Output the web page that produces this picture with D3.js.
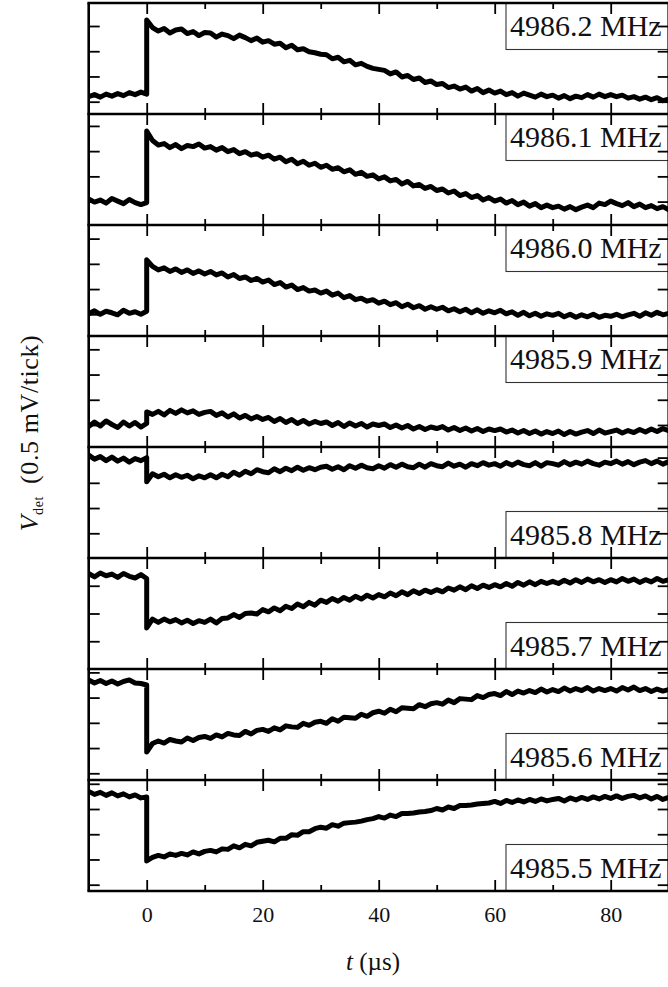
<!DOCTYPE html>
<html>
<head>
<meta charset="utf-8">
<script src="https://cdn.jsdelivr.net/npm/d3@7"></script>
<style>
  html, body { margin: 0; padding: 0; background: #fff; }
  svg { display: block; }
</style>
</head>
<body>
<svg id="chart" width="668" height="987"></svg>
<script>
// Sample times in microseconds; t = 0 appears twice (before and after the switch).
const timesUs = [-10,-9,-8,-7,-6,-5,-4,-3,-2,-1,0,0,
  1,2,3,4,5,6,7,8,9,10,11,12,13,14,15,16,17,18,19,20,
  21,22,23,24,25,26,27,28,29,30,31,32,33,34,35,36,37,38,39,40,
  41,42,43,44,45,46,47,48,49,50,51,52,53,54,55,56,57,58,59,60,
  61,62,63,64,65,66,67,68,69,70,71,72,73,74,75,76,77,78,79,80,
  81,82,83,84,85,86,87,88,89,90];

// Detector voltage traces (mV, offset per panel)
const vdet_4986_2 = [0.10,0.14,0.09,0.15,0.11,0.16,0.12,0.18,0.14,0.19,0.15, 1.62,
  1.47,1.40,1.45,1.36,1.42,1.44,1.35,1.39,1.31,1.37,
  1.36,1.28,1.34,1.31,1.25,1.32,1.27,1.21,1.26,1.18,
  1.21,1.14,1.16,1.07,1.12,1.03,1.05,0.99,0.97,0.94,
  0.93,0.85,0.88,0.79,0.82,0.73,0.76,0.70,0.66,0.64,
  0.62,0.55,0.59,0.49,0.52,0.44,0.47,0.38,0.41,0.34,
  0.36,0.28,0.31,0.25,0.29,0.21,0.26,0.18,0.23,0.17,
  0.21,0.14,0.18,0.11,0.17,0.13,0.09,0.15,0.10,0.13,
  0.07,0.12,0.06,0.11,0.08,0.14,0.09,0.15,0.10,0.14,
  0.10,0.13,0.07,0.10,0.05,0.09,0.04,0.08,0.02,0.05];
const vdet_4986_1 = [0.05,-0.01,0.03,-0.03,0.06,0.01,-0.04,0.04,-0.02,-0.06,-0.02, 1.40,
  1.21,1.12,1.15,1.07,1.13,1.05,1.11,1.09,1.14,1.06,
  1.09,1.02,1.07,0.99,1.03,0.95,0.99,0.92,0.95,0.88,
  0.92,0.84,0.88,0.79,0.84,0.75,0.80,0.72,0.76,0.68,
  0.72,0.64,0.67,0.59,0.63,0.54,0.58,0.50,0.53,0.45,
  0.49,0.41,0.44,0.35,0.40,0.31,0.34,0.26,0.30,0.22,
  0.25,0.17,0.21,0.12,0.16,0.08,0.12,0.03,0.08,0.01,
  0.05,-0.03,0.02,-0.06,-0.01,-0.09,-0.04,-0.12,-0.07,-0.12,
  -0.09,-0.15,-0.10,-0.16,-0.11,-0.07,-0.12,-0.03,-0.06,0.01,
  -0.04,-0.08,-0.02,-0.10,-0.05,-0.12,-0.08,-0.14,-0.10,-0.16];
const vdet_4986_0 = [0.01,0.07,0.00,0.06,0.03,-0.01,0.08,0.02,0.05,0.00,0.06, 1.08,
  0.95,0.88,0.92,0.85,0.90,0.83,0.88,0.81,0.86,0.80,
  0.85,0.78,0.82,0.74,0.79,0.71,0.74,0.67,0.71,0.64,
  0.68,0.59,0.63,0.54,0.58,0.49,0.53,0.46,0.48,0.42,
  0.46,0.38,0.42,0.33,0.37,0.29,0.32,0.26,0.29,0.22,
  0.26,0.19,0.23,0.15,0.20,0.13,0.17,0.10,0.15,0.10,
  0.14,0.07,0.11,0.05,0.10,0.03,0.09,0.02,0.07,0.03,
  0.08,0.01,0.05,-0.02,0.04,-0.03,0.02,-0.04,0.01,-0.02,
  0.02,-0.05,0.00,-0.06,-0.01,-0.05,0.00,-0.06,-0.02,-0.04,
  0.00,-0.05,-0.01,0.02,-0.04,0.03,-0.02,0.04,-0.01,0.02];
const vdet_4985_9 = [-0.03,0.06,-0.02,0.08,0.01,-0.05,0.06,-0.02,0.05,-0.04,0.03, 0.26,
  0.21,0.27,0.20,0.29,0.23,0.30,0.24,0.28,0.21,0.25,
  0.27,0.19,0.24,0.16,0.22,0.14,0.19,0.12,0.17,0.11,
  0.15,0.07,0.13,0.05,0.11,0.03,0.09,0.02,0.07,0.03,
  0.06,-0.01,0.05,-0.03,0.04,-0.02,0.03,-0.04,0.02,-0.01,
  0.02,-0.05,0.00,-0.06,-0.01,-0.08,-0.03,-0.09,-0.04,-0.07,
  -0.03,-0.10,-0.05,-0.11,-0.06,-0.12,-0.07,-0.13,-0.08,-0.11,
  -0.08,-0.14,-0.10,-0.16,-0.11,-0.17,-0.12,-0.18,-0.13,-0.17,
  -0.12,-0.19,-0.13,-0.18,-0.14,-0.11,-0.17,-0.10,-0.16,-0.13,
  -0.10,-0.16,-0.11,-0.15,-0.09,-0.14,-0.08,-0.13,-0.07,-0.11];
const vdet_4985_8 = [1.55,1.47,1.52,1.44,1.51,1.43,1.49,1.41,1.48,1.44,1.50, 1.02,
  1.18,1.12,1.17,1.10,1.16,1.11,1.15,1.08,1.14,1.10,
  1.16,1.10,1.17,1.12,1.21,1.15,1.23,1.18,1.26,1.22,
  1.20,1.28,1.22,1.29,1.24,1.31,1.25,1.30,1.26,1.31,
  1.33,1.27,1.32,1.26,1.34,1.29,1.35,1.30,1.28,1.34,
  1.29,1.36,1.31,1.37,1.32,1.30,1.37,1.31,1.38,1.34,
  1.32,1.39,1.33,1.37,1.31,1.38,1.34,1.40,1.35,1.38,
  1.33,1.40,1.35,1.41,1.36,1.34,1.40,1.33,1.40,1.38,
  1.35,1.42,1.36,1.41,1.37,1.43,1.38,1.35,1.41,1.38,
  1.43,1.37,1.42,1.36,1.41,1.44,1.38,1.43,1.37,1.42];
const vdet_4985_7 = [1.72,1.66,1.73,1.68,1.71,1.65,1.72,1.67,1.64,1.70,1.63, 0.74,
  0.90,0.84,0.90,0.85,0.89,0.83,0.88,0.82,0.87,0.84,
  0.90,0.83,0.91,0.92,0.98,0.93,1.00,1.01,0.99,1.07,
  1.03,1.10,1.05,1.13,1.09,1.17,1.12,1.20,1.15,1.24,
  1.20,1.27,1.22,1.29,1.24,1.31,1.26,1.33,1.28,1.34,
  1.30,1.37,1.32,1.39,1.34,1.41,1.36,1.42,1.38,1.43,
  1.39,1.46,1.42,1.48,1.43,1.50,1.45,1.51,1.47,1.52,
  1.48,1.54,1.49,1.56,1.51,1.57,1.52,1.58,1.54,1.58,
  1.54,1.60,1.55,1.61,1.56,1.62,1.57,1.61,1.56,1.61,
  1.57,1.63,1.58,1.62,1.56,1.61,1.57,1.63,1.58,1.61];
const vdet_4985_6 = [1.85,1.79,1.84,1.78,1.83,1.77,1.82,1.85,1.79,1.78,1.75, 0.42,
  0.59,0.64,0.60,0.67,0.64,0.62,0.70,0.65,0.71,0.73,
  0.69,0.76,0.72,0.79,0.76,0.75,0.83,0.78,0.85,0.87,
  0.83,0.90,0.86,0.94,0.92,0.91,0.99,0.95,1.01,1.03,
  0.99,1.08,1.03,1.11,1.10,1.09,1.17,1.13,1.20,1.23,
  1.19,1.27,1.22,1.30,1.29,1.28,1.36,1.32,1.38,1.40,
  1.37,1.45,1.40,1.48,1.47,1.46,1.54,1.50,1.56,1.58,
  1.54,1.62,1.56,1.63,1.59,1.64,1.60,1.67,1.61,1.66,
  1.62,1.69,1.63,1.68,1.64,1.70,1.63,1.68,1.64,1.68,
  1.63,1.70,1.65,1.71,1.64,1.68,1.62,1.67,1.63,1.66];
const vdet_4985_5 = [1.85,1.79,1.83,1.77,1.82,1.76,1.80,1.74,1.78,1.72,1.74, 0.47,
  0.54,0.58,0.55,0.61,0.58,0.62,0.59,0.65,0.61,0.66,
  0.68,0.65,0.71,0.70,0.77,0.73,0.80,0.77,0.84,0.86,
  0.88,0.85,0.92,0.92,0.99,0.98,1.05,1.05,1.11,1.14,
  1.12,1.19,1.16,1.22,1.23,1.24,1.26,1.29,1.31,1.35,
  1.32,1.38,1.35,1.41,1.41,1.42,1.44,1.45,1.47,1.51,
  1.48,1.54,1.51,1.57,1.57,1.58,1.60,1.61,1.62,1.65,
  1.61,1.67,1.63,1.68,1.64,1.69,1.65,1.70,1.66,1.69,
  1.71,1.66,1.72,1.68,1.73,1.69,1.74,1.70,1.75,1.71,
  1.76,1.71,1.75,1.77,1.72,1.76,1.70,1.75,1.69,1.73];

const frequencyLabels = ["4986.2 MHz","4986.1 MHz","4986.0 MHz","4985.9 MHz",
                         "4985.8 MHz","4985.7 MHz","4985.6 MHz","4985.5 MHz"];
const traces = [vdet_4986_2, vdet_4986_1, vdet_4986_0, vdet_4985_9,
                vdet_4985_8, vdet_4985_7, vdet_4985_6, vdet_4985_5];
// Vertical window of each panel (mV)
const panelLowMv  = [-0.244, -0.464, -0.430, -0.436, -0.490, 0.000, -0.133, -0.125];
const panelHighMv = [ 1.956,  1.736,  1.770,  1.764,  1.710, 2.000,  2.067,  2.075];
const yTickStepMv = 0.5;
const xDomainUs = [-10, 90];
const xMajorTicks = [0, 20, 40, 60, 80];
const xMinorTicks = [10, 30, 50, 70];

// ---- layout ----
const serif = "'Liberation Serif','Times New Roman','DejaVu Serif','Noto Serif',Times,serif";
const plotLeft = 88.7, plotRight = 668.7, plotTop = 3, panelH = 111;
const nPanels = traces.length;
const plotBottom = plotTop + nPanels * panelH;

const svg = d3.select("#chart");
const x = d3.scaleLinear().domain(xDomainUs).range([plotLeft, plotRight]);
const defs = svg.append("defs");

traces.forEach((vals, i) => {
  const y0 = plotTop + i * panelH, y1 = y0 + panelH;
  const y = d3.scaleLinear().domain([panelLowMv[i], panelHighMv[i]]).range([y1, y0]);
  const g = svg.append("g").attr("class", "panel");

  defs.append("clipPath").attr("id", "clip" + i)
    .append("rect").attr("x", plotLeft).attr("y", y0)
    .attr("width", plotRight - plotLeft).attr("height", panelH);

  const line = d3.line().x((d, j) => x(timesUs[j])).y(d => y(d));
  g.append("path").datum(vals)
    .attr("clip-path", `url(#clip${i})`)
    .attr("d", line)
    .attr("fill", "none").attr("stroke", "#000")
    .attr("stroke-width", 5)
    .attr("stroke-linejoin", "round").attr("stroke-linecap", "round");

  // frequency label box
  const boxH = 46.5, boxX = 506;
  const boxY = i < 4 ? y0 : y1 - boxH;
  g.append("rect").attr("x", boxX).attr("y", boxY)
    .attr("width", plotRight - boxX + 4).attr("height", boxH)
    .attr("fill", "#fff").attr("stroke", "#333").attr("stroke-width", 1.1);
  g.append("text").attr("x", boxX + 4).attr("y", boxY + 33)
    .attr("font-family", serif).attr("font-size", 30).attr("fill", "#111")
    .text(frequencyLabels[i]);

  // y ticks on both sides, every 0.5 mV
  const yt = d3.range(Math.ceil((panelLowMv[i] + 0.02) / yTickStepMv),
                      Math.floor((panelHighMv[i] - 0.02) / yTickStepMv) + 1)
               .map(k => k * yTickStepMv);
  const yAxL = d3.axisRight(y).tickValues(yt).tickSize(11).tickFormat("");
  const yAxR = d3.axisLeft(y).tickValues(yt).tickSize(11).tickFormat("");
  g.append("g").attr("transform", `translate(${plotLeft},0)`).call(yAxL);
  g.append("g").attr("transform", `translate(${plotRight},0)`).call(yAxR);

  // x ticks on top and bottom edges, pointing inward
  [[d3.axisBottom, y0], [d3.axisTop, y1]].forEach(([ax, yy]) => {
    g.append("g").attr("transform", `translate(0,${yy})`)
      .call(ax(x).tickValues(xMajorTicks).tickSize(11).tickFormat(""));
    g.append("g").attr("transform", `translate(0,${yy})`)
      .call(ax(x).tickValues(xMinorTicks).tickSize(6).tickFormat(""));
  });
});

svg.selectAll(".panel .domain").remove();
svg.selectAll(".panel .tick line").attr("stroke", "#000").attr("stroke-width", 1.8);

// panel frames
const frame = svg.append("g").attr("stroke", "#000").attr("stroke-width", 2.6);
d3.range(nPanels + 1).forEach(k => {
  const yy = plotTop + k * panelH;
  frame.append("line").attr("x1", plotLeft - 1.3).attr("x2", plotRight + 1.3)
    .attr("y1", yy).attr("y2", yy);
});
frame.append("line").attr("x1", plotLeft).attr("x2", plotLeft)
  .attr("y1", plotTop).attr("y2", plotBottom);
frame.append("line").attr("x1", plotRight).attr("x2", plotRight)
  .attr("y1", plotTop).attr("y2", plotBottom);

// x tick labels
const xLab = svg.append("g").attr("transform", `translate(0,${plotBottom})`)
  .call(d3.axisBottom(x).tickValues(xMajorTicks).tickSize(0).tickPadding(15)
        .tickFormat(d3.format("d")));
xLab.select(".domain").remove();
xLab.attr("font-family", serif).attr("font-size", 22);
xLab.selectAll("text").attr("fill", "#111");

// axis titles
const xt = svg.append("text").attr("x", 373).attr("y", 970)
  .attr("text-anchor", "middle").attr("font-family", serif).attr("font-size", 25)
  .attr("fill", "#111");
xt.append("tspan").attr("font-style", "italic").text("t");
xt.append("tspan").text(" (µs)");

const ytl = svg.append("text").attr("transform", "translate(38,433) rotate(-90)")
  .attr("text-anchor", "middle").attr("font-family", serif).attr("font-size", 26)
  .attr("letter-spacing", 0.6).attr("fill", "#111");
ytl.append("tspan").attr("font-style", "italic").text("V");
ytl.append("tspan").attr("font-size", 14).attr("dy", 5).text("det");
ytl.append("tspan").attr("dy", -5).attr("dx", 12).text("(0.5 mV/tick)");
</script>
</body>
</html>
